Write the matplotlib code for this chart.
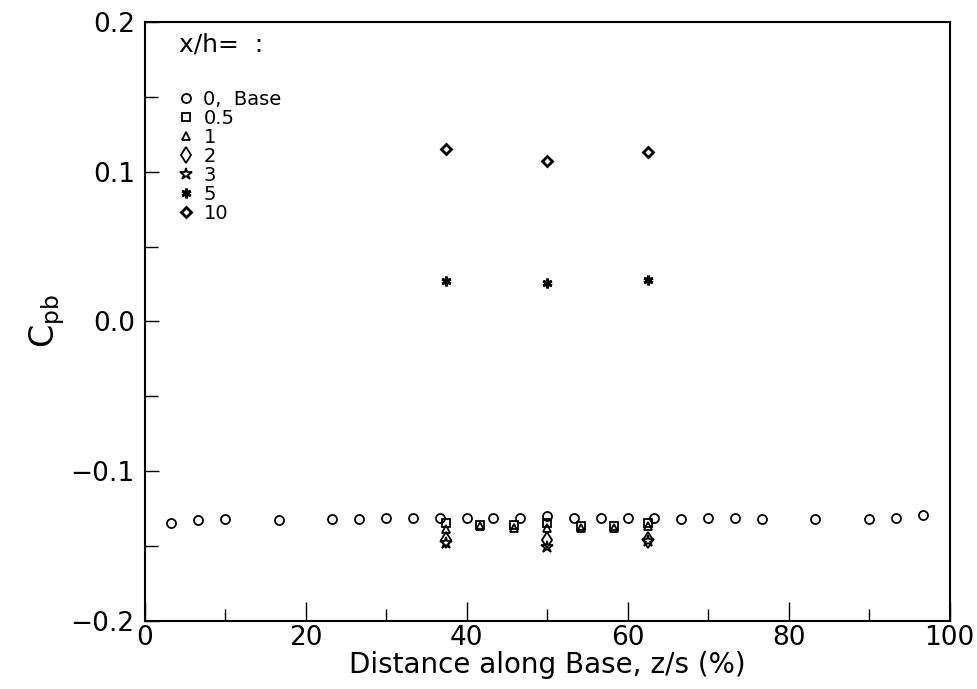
import matplotlib
matplotlib.use('Agg')
import matplotlib.pyplot as plt
from matplotlib.ticker import MultipleLocator, FuncFormatter

# x/h = 0 (base taps)
z_base = [3.33, 6.67, 10, 16.67, 23.33, 26.67, 30, 33.33, 36.67, 40, 43.33, 46.67, 50,
          53.33, 56.67, 60, 63.33, 66.67, 70, 73.33, 76.67, 83.33, 90, 93.33, 96.67]
cp_base = [-0.135, -0.133, -0.132, -0.133, -0.132, -0.132, -0.131, -0.131, -0.131, -0.131,
           -0.131, -0.131, -0.130, -0.131, -0.131, -0.131, -0.131, -0.132, -0.131, -0.131,
           -0.132, -0.132, -0.132, -0.131, -0.129]

# wake rakes
z_05 = [37.5, 41.67, 45.83, 50, 54.17, 58.33, 62.5]
cp_05 = [-0.135, -0.136, -0.136, -0.135, -0.137, -0.137, -0.135]
z_1 = [37.5, 41.67, 45.83, 50, 54.17, 58.33, 62.5]
cp_1 = [-0.139, -0.137, -0.138, -0.138, -0.138, -0.138, -0.137]
z_2 = [37.5, 50, 62.5]
cp_2 = [-0.146, -0.146, -0.146]
z_3 = [37.5, 50, 62.5]
cp_3 = [-0.148, -0.151, -0.147]
z_5 = [37.5, 50, 62.5]
cp_5 = [0.027, 0.026, 0.028]
z_10 = [37.5, 50, 62.5]
cp_10 = [0.115, 0.107, 0.113]

labels = ['0,  Base', '0.5', '1', '2', '3', '5', '10']

plt.rcParams['font.family'] = 'DejaVu Sans'
plt.rcParams['mathtext.default'] = 'regular'

fig = plt.figure(figsize=(9.77, 6.89), dpi=100)
ax = fig.add_axes([0.148, 0.099, 0.824, 0.869])

kw = dict(linestyle='none', color='black', markerfacecolor='none')
ax.plot(z_base, cp_base, marker='o', markersize=6.5, markeredgewidth=1.3, label=labels[0], **kw)
ax.plot(z_05, cp_05, marker='s', markersize=5.5, markeredgewidth=1.3, label=labels[1], **kw)
ax.plot(z_1, cp_1, marker='^', markersize=6, markeredgewidth=1.3, label=labels[2], **kw)
ax.plot(z_2, cp_2, marker='d', markersize=8, markeredgewidth=1.3, label=labels[3], **kw)
ax.plot(z_3, cp_3, marker='*', markersize=9, markeredgewidth=1.3, label=labels[4], **kw)
ax.plot(z_5, cp_5, marker=(6, 2, 0), markersize=7, markeredgewidth=2, label=labels[5], **kw)
ax.plot(z_10, cp_10, marker='D', markersize=5, markeredgewidth=2, label=labels[6], **kw)

ax.set_xlim(0, 100)
ax.set_ylim(-0.2, 0.2)
ax.xaxis.set_major_locator(MultipleLocator(20))
ax.xaxis.set_minor_locator(MultipleLocator(10))
ax.yaxis.set_major_locator(MultipleLocator(0.1))
ax.yaxis.set_minor_locator(MultipleLocator(0.05))
ax.yaxis.set_major_formatter(FuncFormatter(lambda v, p: f'{v:.1f}'.replace('-', '\u2212')))

ax.tick_params(axis='x', which='major', direction='in', length=14, width=1, labelsize=19, pad=3)
ax.tick_params(axis='x', which='minor', direction='in', length=9, width=1)
ax.tick_params(axis='y', which='major', direction='in', length=10, width=1, labelsize=19, pad=7)
ax.tick_params(axis='y', which='minor', direction='in', length=9, width=1)
for s in ax.spines.values():
    s.set_linewidth(1.5)

ax.set_xlabel('Distance along Base, z/s (%)', fontsize=20, labelpad=0)
ax.set_ylabel('C$_{pb}$', fontsize=24, labelpad=3)

ax.text(0.043, 0.962, 'x/h=  :', transform=ax.transAxes, fontsize=18, va='center', ha='left')
ax.legend(loc='upper left', bbox_to_anchor=(0.02, 0.91), frameon=False, fontsize=14,
          labelspacing=0.0, handletextpad=0.3, handlelength=1.2, borderpad=0.2)

fig.savefig('out.png', dpi=100)
